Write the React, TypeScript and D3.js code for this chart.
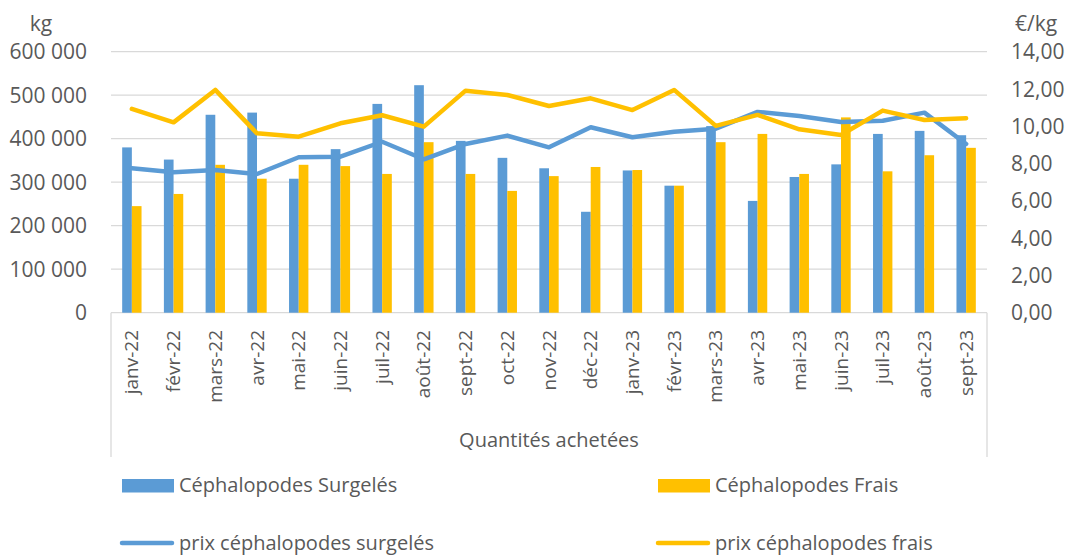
import React from "react";
import * as d3 from "d3";

const months = [
  "janv-22", "févr-22", "mars-22", "avr-22", "mai-22", "juin-22", "juil-22",
  "août-22", "sept-22", "oct-22", "nov-22", "déc-22", "janv-23", "févr-23",
  "mars-23", "avr-23", "mai-23", "juin-23", "juil-23", "août-23", "sept-23",
];

// quantités achetées (kg)
const surgeles = [
  380000, 352000, 455000, 460000, 308000, 376000, 480000, 523000, 395000, 356000, 332000,
  232000, 327000, 292000, 429000, 257000, 312000, 341000, 411000, 418000, 408000,
];
const frais = [
  245000, 273000, 340000, 308000, 340000, 337000, 319000, 392000, 319000, 280000, 314000,
  335000, 328000, 292000, 392000, 411000, 319000, 449000, 325000, 362000, 379000,
];

// prix (€/kg)
const prixSurgeles = [
  7.75, 7.53, 7.66, 7.44, 8.34, 8.37, 9.17, 8.23, 9.05, 9.5, 8.87,
  9.95, 9.41, 9.71, 9.87, 10.77, 10.55, 10.23, 10.3, 10.73, 9.05,
];
const prixFrais = [
  10.93, 10.21, 11.95, 9.62, 9.44, 10.16, 10.59, 9.98, 11.91, 11.68, 11.09,
  11.5, 10.87, 11.95, 10.02, 10.61, 9.84, 9.53, 10.84, 10.34, 10.43,
];

const kgTicks = [0, 100000, 200000, 300000, 400000, 500000, 600000];
const prixTicks = [0, 2, 4, 6, 8, 10, 12, 14];

const BLUE = "#5B9BD5";
const ORANGE = "#FFC000";
const TEXT = "#595959";
const GRID = "#D9D9D9";
const FONT = "'Open Sans', sans-serif";

export default function App() {
  const W = 1068;
  const H = 558;
  const left = 111;
  const right = 987;
  const top = 51.7;
  const bottom = 312.7;

  const x = d3.scaleBand<string>().domain(months).range([left, right]).padding(0);
  const yKg = d3.scaleLinear().domain([0, 600000]).range([bottom, top]);
  const yPrix = d3.scaleLinear().domain([0, 14]).range([bottom, top]);
  const bw = x.bandwidth() * 0.232;
  const cx = (m: string) => (x(m) as number) + x.bandwidth() / 2;

  const fmtKg = (v: number) => d3.format(",")(v).replace(/,/g, " ");
  const fmtPrix = (v: number) => v.toFixed(2).replace(".", ",");

  const line = (vals: number[]) =>
    d3.line<number>()
      .x((_, i) => cx(months[i]))
      .y((d) => yPrix(d))(vals) as string;

  return (
    <div style={{ position: "absolute", left: 0, top: 0 }}>
      <svg width={W} height={H} style={{ display: "block", background: "#fff" }} fontFamily={FONT}>
        {/* grid */}
        {kgTicks.slice(1).map((t) => (
          <line key={t} x1={left} x2={right} y1={yKg(t)} y2={yKg(t)} stroke={GRID} strokeWidth={1.3} />
        ))}
        {/* axis box */}
        <line x1={left} x2={right} y1={bottom} y2={bottom} stroke={GRID} strokeWidth={1.3} />
        <line x1={left} x2={left} y1={bottom} y2={457} stroke={GRID} strokeWidth={1.3} />
        <line x1={right} x2={right} y1={bottom} y2={457} stroke={GRID} strokeWidth={1.3} />

        {/* bars */}
        {months.map((m, i) => (
          <g key={m}>
            <rect x={cx(m) - bw} y={yKg(surgeles[i])} width={bw} height={bottom - yKg(surgeles[i])} fill={BLUE} />
            <rect x={cx(m)} y={yKg(frais[i])} width={bw} height={bottom - yKg(frais[i])} fill={ORANGE} />
          </g>
        ))}

        {/* lines */}
        <path d={line(prixSurgeles)} fill="none" stroke={BLUE} strokeWidth={4.5} strokeLinejoin="round" strokeLinecap="round" />
        <path d={line(prixFrais)} fill="none" stroke={ORANGE} strokeWidth={4.5} strokeLinejoin="round" strokeLinecap="round" />

        {/* left axis */}
        <text x={41} y={31} fontSize={21} fill={TEXT} textAnchor="middle">kg</text>
        {kgTicks.map((t) => (
          <text key={t} x={87} y={yKg(t)} dy="0.36em" fontSize={21} fill={TEXT} textAnchor="end">
            {fmtKg(t)}
          </text>
        ))}

        {/* right axis */}
        <text x={1036} y={31} fontSize={21} fill={TEXT} textAnchor="middle">€/kg</text>
        {prixTicks.map((t) => (
          <text key={t} x={1011} y={yPrix(t)} dy="0.36em" fontSize={21} fill={TEXT} textAnchor="start">
            {fmtPrix(t)}
          </text>
        ))}

        {/* category labels */}
        {months.map((m) => (
          <text
            key={m}
            transform={`translate(${cx(m) + 6.5},${330}) rotate(-90)`}
            fontSize={19}
            fill={TEXT}
            textAnchor="end"
          >
            {m}
          </text>
        ))}
        <text x={549} y={447} fontSize={20} fill={TEXT} textAnchor="middle">Quantités achetées</text>

        {/* legend */}
        <rect x={122} y={479} width={52} height={13.5} fill={BLUE} />
        <text x={179} y={492} fontSize={20} fill={TEXT}>Céphalopodes Surgelés</text>
        <rect x={658} y={479} width={52} height={13.5} fill={ORANGE} />
        <text x={715} y={492} fontSize={20} fill={TEXT}>Céphalopodes Frais</text>

        <line x1={122} x2={172} y1={543} y2={543} stroke={BLUE} strokeWidth={4.5} strokeLinecap="round" />
        <text x={179} y={550} fontSize={20} fill={TEXT}>prix céphalopodes surgelés</text>
        <line x1={658} x2={708} y1={543} y2={543} stroke={ORANGE} strokeWidth={4.5} strokeLinecap="round" />
        <text x={715} y={550} fontSize={20} fill={TEXT}>prix céphalopodes frais</text>
      </svg>
    </div>
  );
}
